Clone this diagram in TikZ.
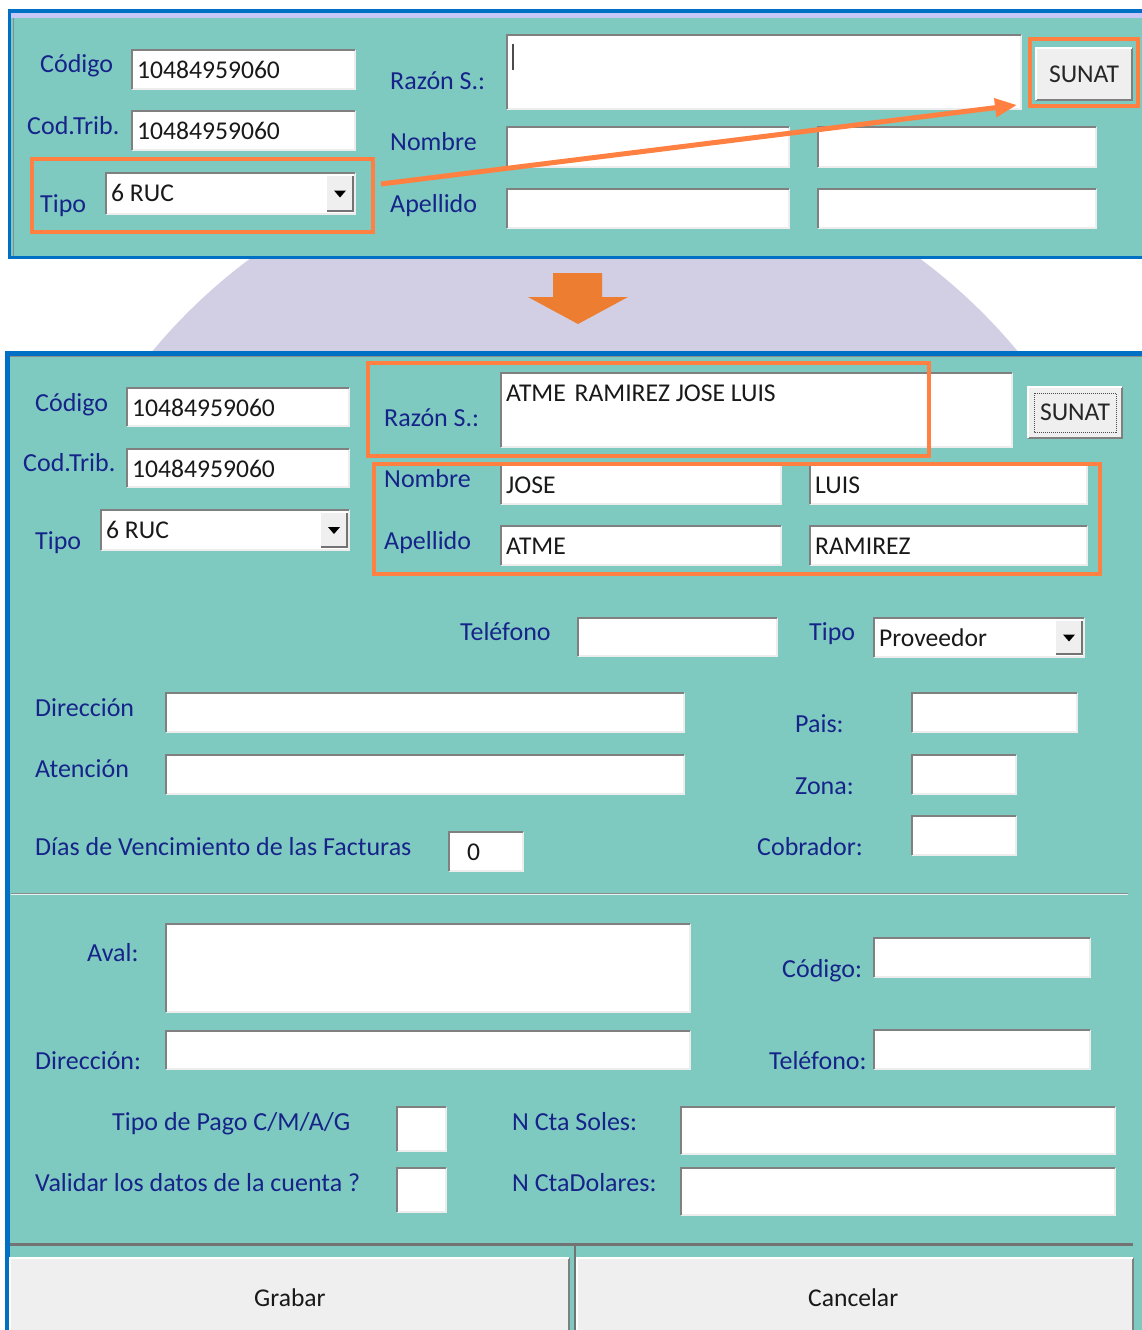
\documentclass[tikz,border=0pt]{standalone}
\usepackage{fontspec}
\setmainfont{Carlito}
\usetikzlibrary{arrows.meta}
\definecolor{teal1}{HTML}{7FCAC0}
\definecolor{blue1}{HTML}{0070C4}
\definecolor{navy1}{HTML}{16248A}
\definecolor{org1}{HTML}{FF8040}
\definecolor{org2}{HTML}{ED7D31}
\definecolor{lav1}{HTML}{D2CEE3}
\definecolor{btn1}{HTML}{EFEFEF}
\tikzset{
  lbl/.style={anchor=base west,inner sep=0pt,text=navy1,font=\fontsize{26}{28}\selectfont},
  val/.style={anchor=base west,inner sep=0pt,text=black!90,font=\fontsize{25.6}{28}\selectfont},
  fieldbox/.style={anchor=north west,inner sep=0pt,outer sep=0pt,fill=white},
  btnbox/.style={anchor=north west,inner sep=0pt,outer sep=0pt,fill=btn1},
  bevdark/.style={draw=black!50,line width=2pt},
  bevlight/.style={draw=black!7,line width=2pt},
  hilite/.style={anchor=north west,inner sep=0pt,outer sep=0pt,draw=org1,line width=4pt},
}
\newcommand{\fld}[5]{%
  \pgfmathsetmacro{\myw}{#4-#2-1}\pgfmathsetmacro{\myh}{#5-#3-1}%
  \node[fieldbox,minimum width=\myw pt,minimum height=\myh pt] (#1) at (#2,#3) {};
  \draw[bevlight] (#1.north east)--(#1.south east)--(#1.south west);
  \draw[bevdark] (#1.south west)--(#1.north west)--(#1.north east);
}
\newcommand{\vfld}[6]{\fld{#1}{#2}{#3}{#4}{#5}
  \pgfmathsetmacro{\myx}{#2+5}\pgfmathsetmacro{\myy}{#3+28}%
  \node[val] (#1t) at (\myx,\myy) {#6};}
\newcommand{\combo}[6]{\vfld{#1}{#2}{#3}{#4}{#5}{#6}
  \pgfmathsetmacro{\bxa}{#4-29}\pgfmathsetmacro{\bxb}{#4-3}\pgfmathsetmacro{\bya}{#3+3}\pgfmathsetmacro{\byb}{#5-4}%
  \pgfmathsetmacro{\myw}{\bxb-\bxa}\pgfmathsetmacro{\myh}{\byb-\bya}%
  \node[btnbox,minimum width=\myw pt,minimum height=\myh pt] (#1b) at (\bxa,\bya) {};
  \draw[draw=black!55,line width=2.5pt] (#1b.north east)--(#1b.south east)--(#1b.south west);
  \fill[black] ([xshift=-6pt,yshift=3pt]#1b.center)--([xshift=6pt,yshift=3pt]#1b.center)--([yshift=-4pt]#1b.center)--cycle;
}
\newcommand{\lab}[4]{\node[lbl] (#1) at (#2,#3) {#4};}
\newcommand{\btn}[6]{%
  \pgfmathsetmacro{\myw}{#4-#2}\pgfmathsetmacro{\myh}{#5-#3}%
  \node[btnbox,minimum width=\myw pt,minimum height=\myh pt,text=black!85,font=\fontsize{25.6}{28}\selectfont] (#1) at (#2,#3) {#6};
  \draw[draw=black!50,line width=2.5pt] (#1.north east)--(#1.south east)--(#1.south west);
  \draw[draw=white,line width=2pt] (#1.south west)--(#1.north west)--(#1.north east);
}
\newcommand{\hl}[5]{%
  \pgfmathsetmacro{\myw}{#4-#2}\pgfmathsetmacro{\myh}{#5-#3}%
  \node[hilite,minimum width=\myw pt,minimum height=\myh pt] (#1) at (#2,#3) {};
}
\begin{document}
\begin{tikzpicture}[x=1pt,y=-1pt]
\useasboundingbox (0,0) rectangle (1142,1330);
\clip (0,0) rectangle (1142,1330);
\fill[white] (0,0) rectangle (1142,1330);
% background disc
\begin{scope}
\clip (0,255) rectangle (1142,355);
\fill[lav1] (585,710) circle[radius=562];
\end{scope}
% top panel
\fill[blue1] (8,9) rectangle (1142,259);
\fill[black!12!blue!22!white] (11,13) rectangle (1142,18);
\fill[teal1] (11,18) rectangle (1142,256);
\draw[black!45,line width=1pt] (13,18)--(13,256);
\lab{a1}{40}{73}{Código}
\lab{a2}{27}{134}{Cod.Trib.}
\lab{a3}{40}{212}{Tipo}
\lab{a4}{390}{89}{Razón S.:}
\lab{a5}{390}{150}{Nombre}
\lab{a6}{390}{212}{Apellido}
\vfld{f1}{132}{50}{356}{90}{10484959060}
\vfld{f2}{132}{111}{356}{151}{10484959060}
\combo{f3}{106}{173}{356}{215}{6 RUC}
\fld{f4}{507}{35}{1022}{110}
\coordinate (cur1) at (513,44);
\coordinate (cur2) at (513,70);
\draw[black!70,line width=1.5pt] (cur1)--(cur2);
\fld{f5}{507}{127}{790}{168}
\fld{f6}{818}{127}{1097}{168}
\fld{f7}{507}{189}{790}{229}
\fld{f8}{818}{189}{1097}{229}
\btn{s1}{1036}{48}{1132}{100}{SUNAT}
\hl{h1}{32}{159}{373}{232}
\hl{h2}{1030}{39}{1138}{106}
\coordinate (ar1) at (381,184);
\coordinate (ar2) at (1017,105);
\draw[org1,line width=5pt,-{Triangle[length=22pt,width=18pt]}] (ar1)--(ar2);
% block arrow
\fill[org2] (553,273)--(602,273)--(602,297)--(628,297)--(578,324)--(528,297)--(553,297)--cycle;
% lower panel
\fill[blue1] (5,351) rectangle (1142,1330);
\fill[teal1] (10,356) rectangle (1142,1330);
\draw[black!45,line width=1pt] (10,356)--(1142,356);
\lab{b1}{35}{411}{Código}
\lab{b2}{23}{471}{Cod.Trib.}
\lab{b3}{35}{549}{Tipo}
\lab{b4}{384}{426}{Razón S.:}
\lab{b5}{384}{487}{Nombre}
\lab{b6}{384}{549}{Apellido}
\lab{b7}{460}{640}{Teléfono}
\lab{b8}{809}{640}{Tipo}
\lab{b9}{35}{716}{Dirección}
\lab{b10}{35}{777}{Atención}
\lab{b11}{795}{732}{Pais:}
\lab{b12}{795}{794}{Zona:}
\lab{b13}{757}{855}{Cobrador:}
\lab{b14}{35}{855}{Días de Vencimiento de las Facturas}
\lab{b15}{87}{961}{Aval:}
\lab{b16}{782}{977}{Código:}
\lab{b17}{35}{1069}{Dirección:}
\lab{b18}{769}{1069}{Teléfono:}
\lab{b19}{112}{1130}{Tipo de Pago C/M/A/G}
\lab{b20}{512}{1130}{N Cta Soles:}
\lab{b21}{35}{1191}{Validar los datos de la cuenta ?}
\lab{b22}{512}{1191}{N CtaDolares:}
\vfld{g1}{127}{388}{350}{427}{10484959060}
\vfld{g2}{127}{449}{350}{488}{10484959060}
\combo{g3}{101}{510}{350}{551}{6 RUC}
\vfld{g4}{501}{373}{1013}{448}{ATME\hspace{3pt} RAMIREZ JOSE LUIS}
\vfld{g5}{501}{465}{782}{505}{JOSE}
\vfld{g6}{810}{465}{1088}{505}{LUIS}
\vfld{g7}{501}{526}{782}{566}{ATME}
\vfld{g8}{810}{526}{1088}{566}{RAMIREZ}
\fld{g9}{578}{618}{778}{657}
\combo{g10}{874}{618}{1085}{658}{Proveedor}
\fld{g11}{166}{693}{685}{733}
\fld{g12}{166}{755}{685}{795}
\fld{g13}{912}{693}{1078}{733}
\fld{g14}{912}{755}{1017}{795}
\fld{g15}{912}{816}{1017}{856}
\vfld{g16}{449}{832}{524}{872}{\hspace{13pt}0}
\coordinate (sepa) at (11,893);
\coordinate (sepb) at (1128,893);
\draw[black!45,line width=1pt] (sepa)--(sepb);
\draw[white!80!teal1,line width=1pt] ([yshift=-1.2pt]sepa)--([yshift=-1.2pt]sepb);
\fld{g17}{166}{924}{691}{1013}
\fld{g18}{166}{1031}{691}{1070}
\fld{g19}{874}{938}{1091}{978}
\fld{g20}{874}{1030}{1091}{1070}
\fld{g21}{397}{1107}{447}{1152}
\fld{g22}{397}{1168}{447}{1213}
\fld{g23}{681}{1107}{1116}{1155}
\fld{g24}{681}{1168}{1116}{1216}
\btn{s2}{1028}{387}{1122}{438}{SUNAT}
\coordinate (fa) at (1034,393);
\coordinate (fb) at (1116,432);
\draw[black!70,line width=1pt,densely dotted] (fa) rectangle (fb);
\hl{h3}{368}{363}{929}{456}
\hl{h4}{374}{464}{1100}{574}
% bottom buttons
\btn{s3}{10}{1258}{569}{1345}{}
\btn{s4}{577}{1258}{1133}{1345}{}
\node[val] (s3t) at (254,1306) {Grabar};
\node[val] (s4t) at (808,1306) {Cancelar};
\coordinate (la) at (10,1244);
\coordinate (lb) at (1133,1244);
\coordinate (lc) at (575,1244);
\coordinate (ld) at (575,1330);
\draw[black!55,line width=3pt] (la)--(lb);
\draw[black!55,line width=2.5pt] (lc)--(ld);
\end{tikzpicture}
\end{document}
